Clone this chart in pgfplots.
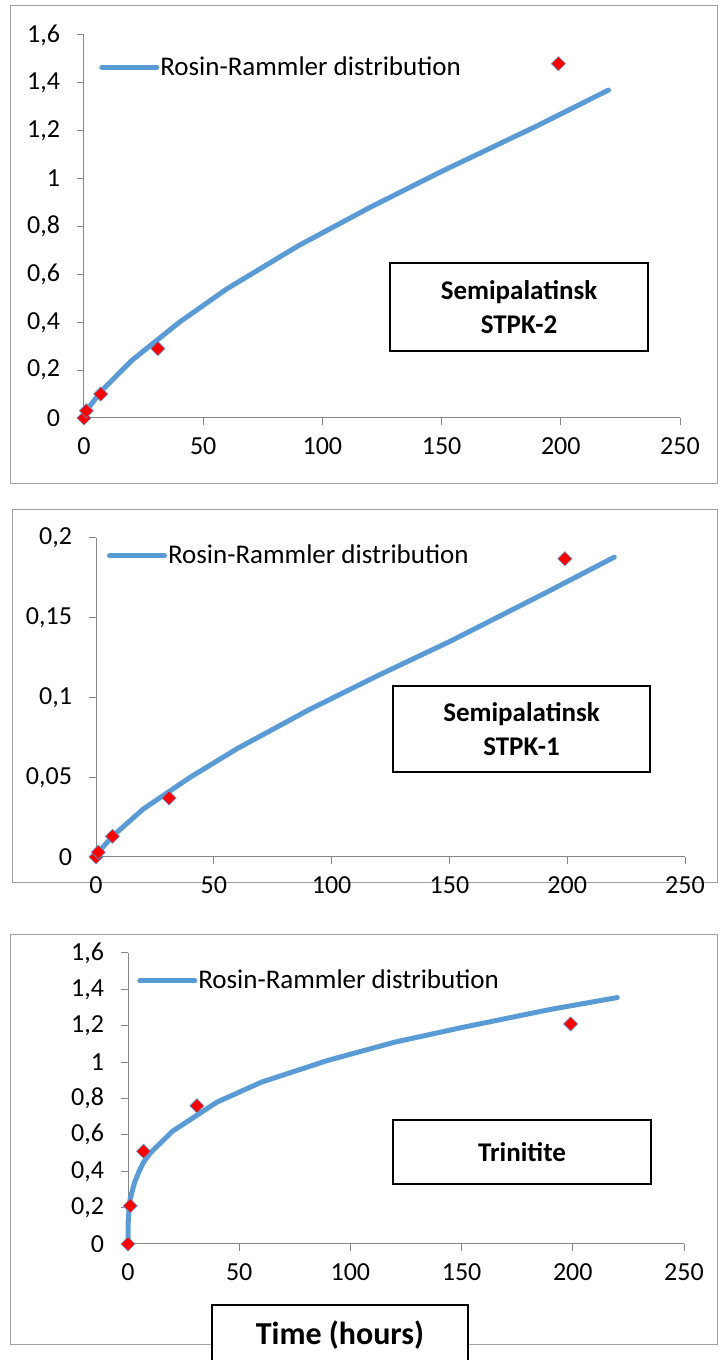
\documentclass[border=0pt]{standalone}
\usepackage{fontspec}
\setmainfont{Carlito}
\usepackage{pgfplots}
\pgfplotsset{compat=1.18}

\definecolor{rrblue}{HTML}{5B9BD5}
\definecolor{axgray}{HTML}{868686}
\definecolor{framegray}{HTML}{A0A0A0}

\pgfplotsset{
  excel/.style={
    scale only axis,
    axis lines=left,
    axis line style={draw=axgray, line width=0.5pt, -},
    tick align=outside,
    major tick length=3.5pt,
    tick style={draw=axgray, line width=0.5pt},
    xmin=0, xmax=250, xtick={0,50,...,250},
    enlargelimits=false, clip=false,
    scaled ticks=false,
    tick label style={font=\fontsize{13}{15}\selectfont},
    xticklabel style={yshift=-3pt},
    yticklabel style={xshift=-5pt},
    /pgf/number format/assume math mode=true,
    /pgf/number format/fixed,
    /pgf/number format/precision=2,
    /pgf/number format/use comma,
    legend style={draw=none, fill=none, anchor=west,
      font=\fontsize{13.5}{15}\selectfont, inner sep=0pt,
      nodes={inner xsep=0.5pt}},
    legend image code/.code={\draw[#1] (0pt,0pt) -- (27.5pt,0pt);},
  },
  rr/.style={rrblue, line width=2.5pt, line cap=round, line join=round},
  pts/.style={only marks, mark=square*, mark size=2.5pt,
    mark options={rotate=45, fill=red, draw=rrblue, line width=0.3pt}},
}

\begin{document}
\begin{tikzpicture}
\useasboundingbox (0,0) rectangle (360pt,680pt);

% frames
\draw[framegray, line width=0.5pt] (5pt,677pt) rectangle (358.75pt,438pt);
\draw[framegray, line width=0.5pt] (6pt,425pt) rectangle (358.75pt,238.5pt);
\draw[framegray, line width=0.5pt] (5pt,212.5pt) rectangle (358.75pt,7.5pt);

% panel 1: Semipalatinsk STPK-2
\begin{axis}[excel, at={(42pt,471pt)}, anchor=south west,
  width=298pt, height=191.5pt,
  ymin=0, ymax=1.6, ytick={0,0.2,0.4,0.6,0.8,1,1.2,1.4,1.6},
  legend style={at={(0.025,0.916)}}]
  \addplot[rr] coordinates {
    (0,0) (1,0.03) (7,0.11) (20,0.24) (40,0.40) (60,0.54) (90,0.72)
    (120,0.88) (150,1.03) (190,1.22) (220,1.37)};
  \addlegendentry{Rosin-Rammler distribution}
  \addplot[pts, forget plot] coordinates {
    (0,0) (1,0.03) (7,0.10) (31,0.29) (199,1.48)};
\end{axis}

% panel 2: Semipalatinsk STPK-1
\begin{axis}[excel, at={(48pt,251.5pt)}, anchor=south west,
  width=294.5pt, height=159.5pt,
  ymin=0, ymax=0.2, ytick={0,0.05,0.1,0.15,0.2},
  legend style={at={(0.018,0.944)}}]
  \addplot[rr] coordinates {
    (0,0) (1,0.003) (7,0.013) (20,0.03) (40,0.05) (60,0.068) (90,0.092)
    (120,0.114) (150,0.135) (190,0.165) (220,0.188)};
  \addlegendentry{Rosin-Rammler distribution}
  \addplot[pts, forget plot] coordinates {
    (0,0) (1,0.003) (7,0.013) (31,0.037) (199,0.187)};
\end{axis}

% panel 3: Trinitite
\begin{axis}[excel, at={(64pt,58pt)}, anchor=south west,
  width=278pt, height=145.5pt,
  ymin=0, ymax=1.6, ytick={0,0.2,0.4,0.6,0.8,1,1.2,1.4,1.6},
  legend style={at={(0.016,0.904)}}]
  \addplot[rr] coordinates {
    (0,0) (0.1,0.12) (0.5,0.2) (1,0.25) (3,0.34) (5,0.40) (7,0.45)
    (10,0.50) (20,0.62) (40,0.78) (60,0.89) (90,1.01) (120,1.11)
    (150,1.19) (190,1.29) (220,1.355)};
  \addlegendentry{Rosin-Rammler distribution}
  \addplot[pts, forget plot] coordinates {
    (0,0) (1,0.21) (7,0.51) (31,0.76) (199,1.21)};
\end{axis}

% labels in boxes
\draw[black, line width=0.75pt, fill=white] (195pt,548.5pt) rectangle (324pt,504.5pt);
\node[font=\fontsize{13.5}{17}\selectfont\bfseries, align=center] at (259.5pt,526.5pt)
  {Semipalatinsk\\STPK-2};
\draw[black, line width=0.75pt, fill=white] (196.5pt,337pt) rectangle (325pt,294pt);
\node[font=\fontsize{13.5}{17}\selectfont\bfseries, align=center] at (260.75pt,315.5pt)
  {Semipalatinsk\\STPK-1};
\draw[black, line width=0.75pt, fill=white] (196.5pt,120pt) rectangle (325.5pt,88pt);
\node[font=\fontsize{13.5}{17}\selectfont\bfseries] at (261pt,104pt) {Trinitite};
\draw[black, line width=0.75pt, fill=white] (106pt,27.5pt) rectangle (234pt,-5pt);
\node[font=\fontsize{16}{19}\selectfont\bfseries] at (170pt,12.5pt) {Time (hours)};
\end{tikzpicture}
\end{document}
